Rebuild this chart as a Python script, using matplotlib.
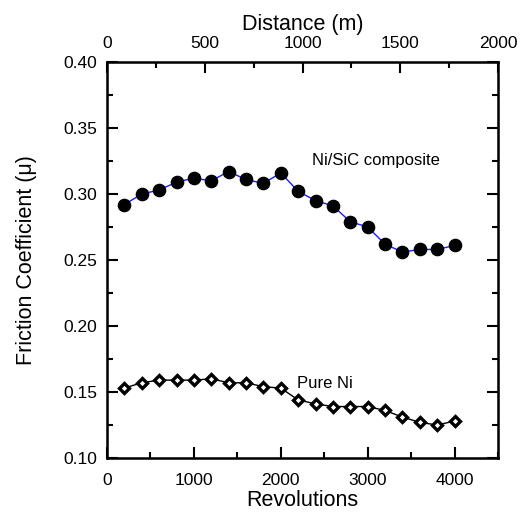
import matplotlib.pyplot as plt
from matplotlib.ticker import MultipleLocator

plt.rcParams['font.family'] = ['Liberation Sans', 'DejaVu Sans']

revolutions = [200, 400, 600, 800, 1000, 1200, 1400, 1600, 1800, 2000,
               2200, 2400, 2600, 2800, 3000, 3200, 3400, 3600, 3800, 4000]
ni_sic = [0.292, 0.300, 0.303, 0.309, 0.312, 0.310, 0.317, 0.311, 0.308, 0.316,
          0.302, 0.295, 0.291, 0.279, 0.275, 0.262, 0.256, 0.258, 0.258, 0.261]
pure_ni = [0.153, 0.157, 0.159, 0.159, 0.159, 0.160, 0.157, 0.157, 0.154, 0.153,
           0.144, 0.141, 0.139, 0.139, 0.139, 0.136, 0.131, 0.127, 0.125, 0.128]

fig = plt.figure(figsize=(5.29, 5.12), dpi=100)
ax = fig.add_axes([107 / 529, 1 - 458 / 512, 391 / 529, 396 / 512])

ax.plot(revolutions, ni_sic, color='#1a1aff', lw=1, marker='o', ms=8.8,
        mfc='black', mec='black', zorder=3)
ax.plot(revolutions, pure_ni, color='black', lw=1, marker='D', ms=5.5,
        mfc='white', mec='black', mew=2.4, zorder=3)

ax.text(2360, 0.322, 'Ni/SiC composite', fontsize=12, va='baseline')
ax.text(2190, 0.153, 'Pure Ni', fontsize=12, va='baseline')

ax.set_xlim(0, 4500)
ax.set_ylim(0.10, 0.40)
ax.xaxis.set_major_locator(MultipleLocator(1000))
ax.xaxis.set_minor_locator(MultipleLocator(500))
ax.yaxis.set_major_locator(MultipleLocator(0.05))
ax.yaxis.set_minor_locator(MultipleLocator(0.025))
ax.yaxis.set_major_formatter(plt.FormatStrFormatter('%.2f'))
ax.tick_params(which='both', direction='in', right=True, width=1.5, labelsize=12.5)
ax.tick_params(which='major', length=8)
ax.tick_params(which='minor', length=4)
ax.tick_params(axis='x', which='major', pad=11)
ax.tick_params(axis='y', which='major', pad=7)
for s in ax.spines.values():
    s.set_linewidth(1.8)
ax.set_xlabel('Revolutions', fontsize=15.5, labelpad=1)
ax.set_ylabel('Friction Coefficient (\u03bc)', fontsize=15.5, labelpad=19)

top = ax.twiny()
top.set_xlim(0, 2000)
top.xaxis.set_major_locator(MultipleLocator(500))
top.xaxis.set_minor_locator(MultipleLocator(250))
top.tick_params(which='both', direction='in', width=1.5, labelsize=12.5)
top.tick_params(which='major', length=8, pad=8)
top.tick_params(which='minor', length=4)
top.set_xlabel('Distance (m)', fontsize=15.5, labelpad=4)

fig.savefig('out.png', dpi=100)
